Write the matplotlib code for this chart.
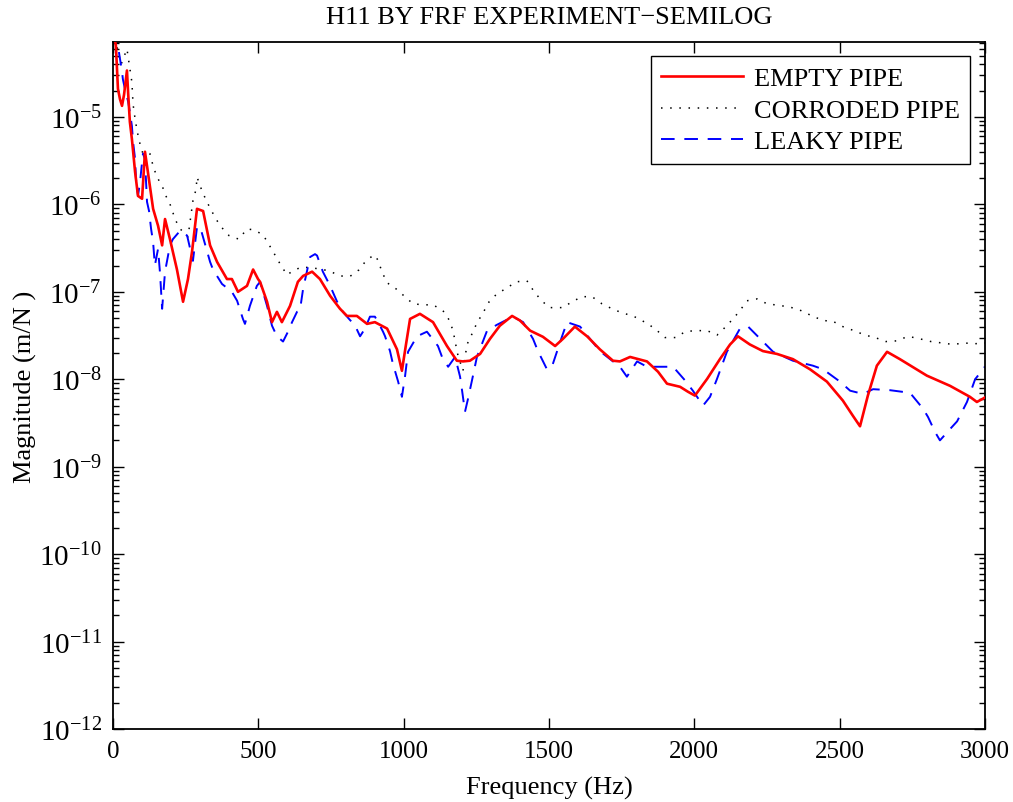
import matplotlib
matplotlib.use("Agg")
import matplotlib.pyplot as plt
import numpy as np

# ---------------- data ----------------
empty_f = [0, 10, 17, 24, 31, 38, 48, 52, 58, 65, 76, 86, 100, 110, 120, 138, 155, 169, 179, 196,
           220, 241, 258, 272, 289, 310, 334, 358, 392, 409, 430, 461, 482, 499, 506, 530, 547, 564,
           581, 609, 636, 654, 685, 712, 747, 781, 805, 839, 874, 901, 943, 977, 994, 1008, 1022,
           1056, 1101, 1149, 1183, 1204, 1228, 1263, 1297, 1331, 1373, 1400, 1435, 1479, 1521,
           1548, 1589, 1631, 1675, 1720, 1744, 1779, 1837, 1875, 1906, 1951, 1978, 2002, 2044,
           2088, 2123, 2150, 2191, 2236, 2284, 2339, 2398, 2456, 2511, 2546, 2570, 2597, 2628,
           2663, 2707, 2800, 2880, 2948, 2972, 2993, 3000]
empty_m = [1e-4, 6.5e-5, 2.1e-5, 1.6e-5, 1.34e-5, 1.8e-5, 3.4e-5, 1.9e-5, 8.8e-6, 5.6e-6, 2.35e-6,
           1.25e-6, 1.16e-6, 4.0e-6, 2.35e-6, 8.9e-7, 5.7e-7, 3.4e-7, 6.8e-7, 4.0e-7,
           1.8e-7, 7.7e-8, 1.4e-7, 2.9e-7, 8.9e-7, 8.4e-7, 3.4e-7, 2.2e-7, 1.4e-7, 1.4e-7, 1.0e-7,
           1.17e-7, 1.8e-7, 1.4e-7, 1.3e-7, 7.7e-8, 4.5e-8, 5.9e-8,
           4.5e-8, 6.9e-8, 1.3e-7, 1.52e-7, 1.7e-7, 1.4e-7, 9.0e-8, 6.4e-8, 5.3e-8, 5.3e-8, 4.3e-8,
           4.5e-8, 3.8e-8, 2.2e-8, 1.25e-8, 2.5e-8, 4.9e-8,
           5.6e-8, 4.5e-8, 2.4e-8, 1.63e-8, 1.6e-8, 1.63e-8, 1.95e-8, 2.9e-8, 4.1e-8, 5.3e-8,
           4.7e-8, 3.6e-8, 3.06e-8, 2.4e-8,
           2.9e-8, 4.0e-8, 3.1e-8, 2.2e-8, 1.63e-8, 1.6e-8, 1.8e-8, 1.6e-8, 1.22e-8, 8.9e-9,
           8.2e-9, 7.2e-9, 6.5e-9, 1.01e-8,
           1.7e-8, 2.5e-8, 3.1e-8, 2.5e-8, 2.1e-8, 1.95e-8, 1.7e-8, 1.3e-8, 9.4e-9, 5.7e-9, 3.8e-9,
           2.9e-9, 6.5e-9, 1.43e-8,
           2.06e-8, 1.7e-8, 1.1e-8, 8.4e-9, 6.3e-9, 5.5e-9, 6.0e-9, 6.2e-9]

corroded_f = [0, 28, 48, 65, 69, 76, 83, 93, 103, 127, 138, 151, 169, 182, 200, 213, 231, 258, 275,
              286, 289, 306, 323, 354, 375, 399, 433, 461, 485, 516, 537, 557, 578, 599, 619, 650,
              705, 743, 781, 815, 846, 870, 898, 912, 925, 943, 974, 1001, 1032, 1067, 1101, 1135,
              1156, 1170, 1177, 1187, 1204, 1218, 1235, 1252, 1273, 1294, 1321, 1356, 1386, 1424,
              1445, 1469, 1500, 1548, 1579, 1614, 1648, 1682, 1717, 1751, 1789, 1841, 1872, 1899,
              1937, 1968, 2002, 2044, 2078, 2105, 2133, 2157, 2181, 2216, 2250, 2291, 2329, 2367,
              2405, 2443, 2477, 2511, 2549, 2587, 2622, 2659, 2697, 2735, 2776, 2814, 2852, 2890,
              2928, 2966, 3000]
corroded_m = [1e-4, 4.0e-5, 6.0e-5, 2.5e-5, 1.4e-5, 9.5e-6, 6.9e-6, 4.9e-6, 3.8e-6, 3.8e-6, 2.75e-6,
              2.06e-6, 1.63e-6, 1.25e-6, 9.4e-7, 6.8e-7, 5.25e-7, 4.25e-7, 1.1e-6,
              1.5e-6, 2.06e-6, 1.43e-6, 1.07e-6, 6.8e-7, 5.4e-7, 4.4e-7, 4.0e-7, 5.25e-7, 5.1e-7,
              4.5e-7, 3.45e-7, 2.65e-7, 2.0e-7, 1.56e-7, 1.74e-7, 1.93e-7,
              1.84e-7, 1.74e-7, 1.52e-7, 1.5e-7, 1.78e-7, 2.26e-7, 2.65e-7, 2.3e-7, 1.7e-7, 1.27e-7,
              1.08e-7, 9.0e-8, 7.3e-8, 7.1e-8, 7.1e-8, 6.1e-8,
              4.8e-8, 3.6e-8, 2.7e-8, 1.86e-8, 1.25e-8, 2.5e-8, 3.3e-8, 4.4e-8, 5.75e-8, 7.7e-8,
              9.5e-8, 1.11e-7, 1.3e-7, 1.34e-7,
              1.05e-7, 8.3e-8, 6.6e-8, 6.6e-8, 7.7e-8, 8.8e-8, 8.8e-8, 7.3e-8, 6.4e-8, 5.75e-8,
              5.3e-8, 4.3e-8, 3.6e-8, 3.0e-8,
              3.0e-8, 3.5e-8, 3.6e-8, 3.6e-8, 3.2e-8, 3.9e-8, 4.9e-8, 6.1e-8, 7.9e-8, 8.3e-8, 7.3e-8,
              7.0e-8, 6.7e-8, 6.1e-8,
              5.3e-8, 4.7e-8, 4.6e-8, 4.0e-8, 3.6e-8, 3.2e-8, 3.0e-8, 2.7e-8, 2.75e-8, 3.1e-8, 2.9e-8,
              2.7e-8, 2.6e-8, 2.5e-8,
              2.6e-8, 2.55e-8, 2.6e-8]

leaky_f = [0, 17, 24, 31, 34, 41, 52, 58, 65, 69, 76, 79, 86, 93, 100, 103, 110, 117, 124, 131, 138,
           144, 155, 162, 169, 179, 196, 206, 231, 255, 275, 289, 300, 334, 344, 375, 409, 427, 447,
           454, 471, 495, 506, 516, 530, 547, 564, 585, 602, 616, 633, 643, 654, 667, 678, 695,
           702, 722, 740, 747, 771, 791, 812, 833, 850, 867, 884, 901, 912, 929, 936, 953, 963,
           981, 994, 1005, 1015, 1046, 1080, 1118, 1132, 1153, 1177, 1194, 1201, 1211, 1221, 1235,
           1252, 1287, 1321, 1376, 1411, 1445, 1462, 1493, 1510, 1527, 1545, 1562, 1607, 1641,
           1675, 1710, 1744, 1768, 1803, 1837, 1899, 1927, 1968, 1995, 2030, 2054, 2078, 2112,
           2157, 2185, 2236, 2271, 2339, 2408, 2443, 2501, 2536, 2580, 2615, 2673, 2742, 2787,
           2804, 2828, 2845, 2880, 2904, 2938, 2966, 2993, 3000]
leaky_m = [1e-4, 6.5e-5, 4.6e-5, 3.3e-5, 2.7e-5, 2.1e-5, 1.5e-5, 1.14e-5, 7.9e-6, 5.2e-6, 3.3e-6,
           1.95e-6, 1.25e-6, 1.8e-6, 3.06e-6, 3.8e-6, 3.3e-6, 1.07e-6, 8.4e-7, 5.25e-7, 3.7e-7,
           2.0e-7, 3.1e-7, 1.6e-7, 6.4e-8, 1.7e-7, 3.4e-7, 4.0e-7, 5.0e-7, 4.4e-7, 2.26e-7, 5.5e-7,
           5.5e-7, 2.2e-7, 1.8e-7, 1.23e-7, 1.0e-7, 7.9e-8, 4.9e-8,
           4.3e-8, 6.9e-8, 1.17e-7, 1.3e-7, 1.0e-7, 6.9e-8, 4.1e-8, 3.1e-8, 2.7e-8, 3.5e-8, 4.5e-8,
           5.9e-8, 6.1e-8, 1.08e-7, 1.7e-7, 2.5e-7, 2.7e-7,
           2.6e-7, 1.7e-7, 1.3e-7, 1.17e-7, 7.7e-8, 5.9e-8, 4.9e-8, 4.1e-8, 3.1e-8, 3.8e-8, 5.2e-8,
           5.2e-8, 4.5e-8, 3.5e-8, 3.1e-8, 2.1e-8, 1.5e-8,
           9.4e-9, 6.3e-9, 1.1e-8, 2.06e-8, 3.1e-8, 3.5e-8, 2.4e-8, 1.8e-8, 1.39e-8, 1.8e-8, 1.07e-8,
           7.4e-9, 4.25e-9, 5.9e-9, 9.7e-9,
           1.8e-8, 3.6e-8, 4.2e-8, 5.2e-8, 4.5e-8, 2.9e-8, 2.1e-8, 1.3e-8, 1.39e-8, 2.06e-8, 3.1e-8,
           4.5e-8, 4.0e-8, 2.9e-8,
           2.1e-8, 1.7e-8, 1.39e-8, 1.07e-8, 1.6e-8, 1.39e-8, 1.39e-8, 1.39e-8, 9.7e-9, 7.4e-9,
           5.0e-9, 6.3e-9, 1.01e-8, 2.06e-8,
           3.8e-8, 4.0e-8, 2.7e-8, 2.06e-8, 1.63e-8, 1.43e-8, 1.3e-8, 9.4e-9, 7.4e-9, 6.8e-9, 7.7e-9,
           7.5e-9, 7.0e-9, 4.6e-9,
           3.7e-9, 2.5e-9, 2.0e-9, 2.7e-9, 3.3e-9, 5.5e-9, 1.0e-8, 1.3e-8, 1.4e-8]

series_labels = ["EMPTY PIPE", "CORRODED PIPE", "LEAKY PIPE"]
x_ticks = [0, 500, 1000, 1500, 2000, 2500, 3000]
y_exponents = [-12, -11, -10, -9, -8, -7, -6, -5]

# ---------------- styling ----------------
plt.rcParams["font.family"] = ["Liberation Serif", "DejaVu Serif"]
plt.rcParams["mathtext.fontset"] = "custom"
plt.rcParams["mathtext.rm"] = "Liberation Serif"
plt.rcParams["mathtext.it"] = "Liberation Serif:italic"
plt.rcParams["mathtext.bf"] = "Liberation Serif:bold"

fig = plt.figure(figsize=(10.13, 8.03), dpi=100)
ax = fig.add_axes([113 / 1013, 1 - 730 / 803, 872 / 1013, 687 / 803])

ax.semilogy(empty_f, empty_m, color="#ff0000", lw=1.9, label=series_labels[0], zorder=3)
ax.semilogy(corroded_f, corroded_m, color="black", lw=1.1, dashes=(1, 5),
            label=series_labels[1], zorder=2)
ax.semilogy(leaky_f, leaky_m, color="#0000ff", lw=1.4, dashes=(7, 5),
            label=series_labels[2], zorder=2)

ax.set_xlim(0, 3000)
ax.set_ylim(1e-12, 7.2e-5)
ax.set_xticks(x_ticks)
ax.set_xticklabels([str(v) for v in x_ticks])
ax.set_yticks([10.0 ** e for e in y_exponents])
ax.set_yticklabels([r"$10^{%d}$" % e for e in y_exponents])
ax.yaxis.set_minor_locator(matplotlib.ticker.LogLocator(base=10, subs=np.arange(2, 10), numticks=20))
ax.yaxis.set_minor_formatter(matplotlib.ticker.NullFormatter())

ax.tick_params(which="both", direction="in", top=True, right=True, width=1.0)
ax.tick_params(axis="x", labelsize=18)
ax.tick_params(axis="y", labelsize=21)
ax.tick_params(which="major", length=8, pad=8)
ax.tick_params(which="minor", length=4)
for s in ax.spines.values():
    s.set_linewidth(1.3)

ax.set_xlabel("Frequency (Hz)", fontsize=19, labelpad=10)
ax.set_ylabel("Magnitude (m/N )", fontsize=19, labelpad=2)
ax.set_title("H11 BY FRF EXPERIMENT\u2212SEMILOG", fontsize=19, pad=14)

leg = ax.legend(loc="upper right", fontsize=19, handlelength=3.1, fancybox=False,
                edgecolor="black", framealpha=1, borderpad=0.4, labelspacing=0.3,
                handletextpad=0.4, borderaxespad=0, bbox_to_anchor=(0.983, 0.979))
leg.get_frame().set_linewidth(1.0)

fig.savefig("out.png", dpi=100, facecolor="white")
